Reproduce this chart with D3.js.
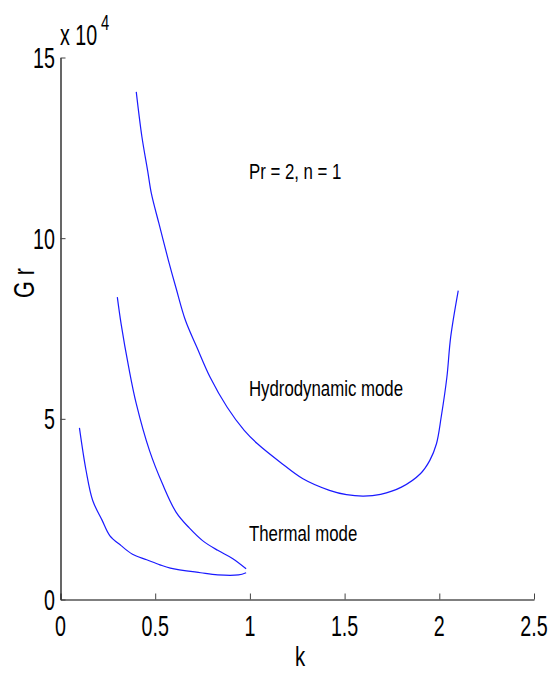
<!DOCTYPE html>
<html><head><meta charset="utf-8">
<script src="https://cdn.jsdelivr.net/npm/d3@7"></script>
<style>
body{margin:0;background:#fff}
text{font-family:"Liberation Sans",Arial,sans-serif;fill:#000}
</style>
</head><body>
<svg id="c" width="552" height="673"></svg>
<script>
// Data (Gr in units of 10^4)
const hydroK  = [0.40,0.43,0.46,0.48,0.52,0.57,0.61,0.66,0.72,0.79,0.88,0.97,1.04,1.16,1.28,1.42,1.51,1.60,1.69,1.80,1.90,1.95,1.985,2.01,2.04,2.06,2.10];
const hydroGr = [14.05,12.8,11.87,11.23,10.4,9.38,8.62,7.72,6.98,6.15,5.32,4.68,4.31,3.80,3.34,3.02,2.90,2.86,2.91,3.11,3.48,3.85,4.31,5.05,6.15,7.26,8.55];
const thermUpK  = [0.30,0.32,0.36,0.40,0.47,0.54,0.61,0.68,0.75,0.83,0.91,0.98];
const thermUpGr = [8.37,7.63,6.43,5.42,4.12,3.18,2.42,1.98,1.63,1.36,1.13,0.85];
const thermLoK  = [0.10,0.135,0.17,0.22,0.26,0.32,0.38,0.455,0.525,0.58,0.74,0.83,0.94,0.98];
const thermLoGr = [4.75,3.57,2.74,2.19,1.77,1.49,1.25,1.10,0.96,0.87,0.74,0.68,0.68,0.74];
const xTicks = [0,0.5,1,1.5,2,2.5];
const yTicks = [0,5,10,15];
const xTickLabels = ["0","0.5","1","1.5","2","2.5"];
const yTickLabels = ["0","5","10","15"];
const annoText = ["Pr = 2, n = 1","Hydrodynamic mode","Thermal mode"];
const annoK    = [0.995,0.995,0.995];
const annoGr   = [11.65,5.62,1.63];

const svg = d3.select("#c");
const x = d3.scaleLinear().domain([0,2.5]).range([60.5,534]);
const y = d3.scaleLinear().domain([0,15]).range([599.5,57.5]);

// axes
svg.append("g").attr("transform","translate(0,"+y(0)+")")
  .call(d3.axisBottom(x).tickValues(xTicks).tickSizeInner(-6).tickSizeOuter(0).tickFormat(""));
svg.append("g").attr("transform","translate("+x(0)+",0)")
  .call(d3.axisLeft(y).tickValues(yTicks).tickSizeInner(-5).tickSizeOuter(0).tickFormat(""));
svg.selectAll(".domain").attr("stroke","#000").attr("stroke-width",1.2);
svg.selectAll(".tick line").attr("stroke","#444").attr("stroke-width",1);

function stretchedText(g, px, py, str, size, sx, sy, anchor){
  const gg = g.append("g").attr("transform","translate("+px+","+py+")");
  return gg.append("text").attr("transform","scale("+sx+","+sy+")")
    .attr("text-anchor",anchor).attr("font-size",size).text(str);
}
const lab = svg.append("g");
xTicks.forEach((t,i)=> stretchedText(lab, x(t), 636, xTickLabels[i], 24, 0.82, 1.25, "middle"));
yTicks.forEach((t,i)=> stretchedText(lab, 55, y(t)+10.5, yTickLabels[i], 24, 0.82, 1.25, "end"));
stretchedText(lab, 60, 45, "x 10", 24, 0.82, 1.2, "start");
stretchedText(lab, 101, 30, "4", 18, 0.82, 1.2, "start");
stretchedText(lab, 300, 666, "k", 24, 0.85, 1.15, "middle");
// y label rotated
const gy = lab.append("g").attr("transform","translate(34,283) rotate(-90)");
gy.append("text").attr("transform","scale(0.9,1.25)").attr("text-anchor","middle").attr("font-size",24).text("G r");

annoText.forEach((t,i)=> stretchedText(lab, x(annoK[i]), y(annoGr[i]), t, 20.5, 0.82, 1.1, "start"));

// curves
const line = d3.line().x(d=>x(d[0])).y(d=>y(d[1])).curve(d3.curveCatmullRom.alpha(0.5));
const series = [
  d3.zip(hydroK, hydroGr),
  d3.zip(thermUpK, thermUpGr),
  d3.zip(thermLoK, thermLoGr)
];
svg.append("g").selectAll("path").data(series).join("path")
  .attr("d", line).attr("fill","none").attr("stroke","#1a1aff").attr("stroke-width",1.2);
</script>
</body></html>
